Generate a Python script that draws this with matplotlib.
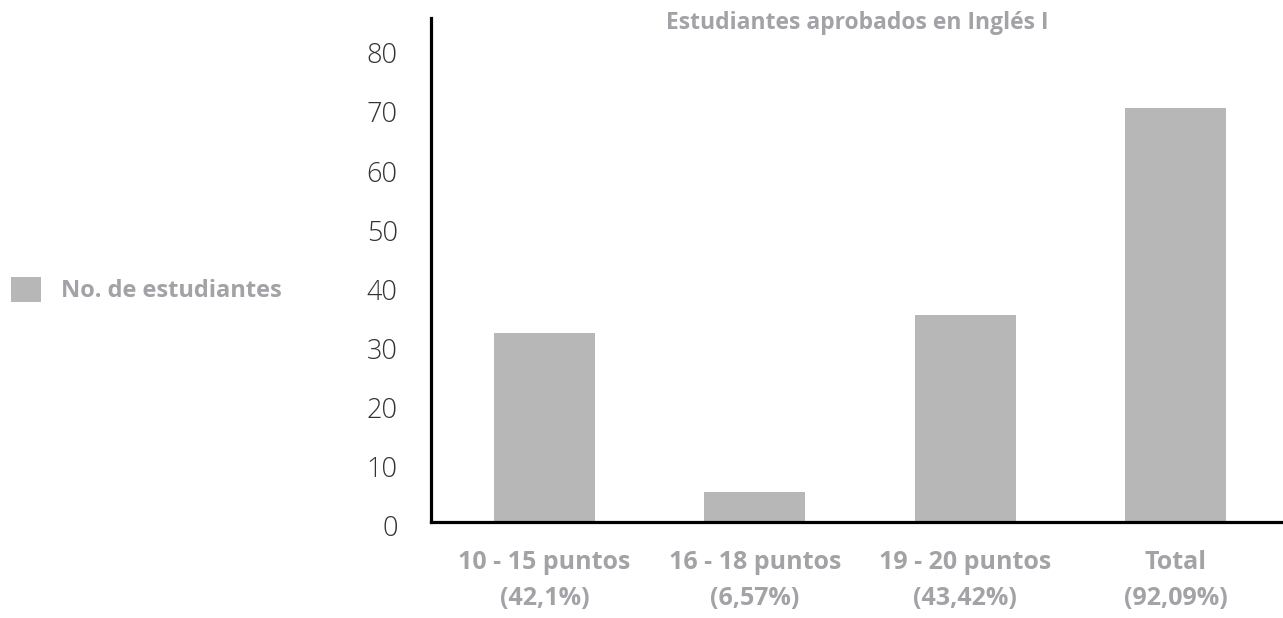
import matplotlib
matplotlib.use("Agg")
import matplotlib.pyplot as plt
import matplotlib.transforms as mtransforms
from matplotlib.patches import Patch

categories = ["10 - 15 puntos\n(42,1%)", "16 - 18 puntos\n(6,57%)",
              "19 - 20 puntos\n(43,42%)", "Total\n(92,09%)"]
students = [32, 5, 35, 70]
yticks = [0, 10, 20, 30, 40, 50, 60, 70, 80]

title = "Estudiantes aprobados en Inglés I"
series_name = "No. de estudiantes"

bar_color = "#b7b7b7"
text_gray = "#a2a2a7"
bold_font = ["Open Sans", "DejaVu Sans"]
light_font = ["Open Sans", "DejaVu Sans"]

W, H = 1283, 618
fig = plt.figure(figsize=(W / 100, H / 100), dpi=100)
ax = fig.add_axes([431 / W, (H - 522) / H, (W - 431) / W, (522 - 18) / H])

x = range(len(categories))
ax.bar(x, students, width=0.48, color=bar_color, zorder=2)

ax.set_xlim(-0.54, 3.51)
ax.set_ylim(0, 85.2)
ax.set_yticks(yticks)
ax.set_yticklabels([str(t) for t in yticks], fontsize=19.5,
                   family=light_font, fontweight="light", color="#333333")
ax.set_xticks(list(x))
ax.set_xticklabels(categories, fontsize=18, family=bold_font,
                   fontweight="bold", color=text_gray, linespacing=1.6)
ax.tick_params(axis="y", length=0, pad=24)
ax.tick_params(axis="x", length=0, pad=20)

# shift y labels slightly down like in the original
off = mtransforms.ScaledTranslation(0, -4 / 100, fig.dpi_scale_trans)
for lab in ax.get_yticklabels():
    lab.set_transform(lab.get_transform() + off)

for side in ["top", "right"]:
    ax.spines[side].set_visible(False)
for side in ["left", "bottom"]:
    ax.spines[side].set_linewidth(2.3)
    ax.spines[side].set_color("black")

fig.text((431 + W) / 2 / W, 1 - 23 / H, title, ha="center", va="center",
         fontsize=16.5, family=bold_font, fontweight="bold", color=text_gray)

handle = Patch(facecolor=bar_color, edgecolor="none")
fig.legend([handle], [series_name], loc="center left",
           bbox_to_anchor=(0.0, 1 - 290 / H), frameon=False,
           prop={"family": bold_font, "weight": "bold", "size": 17},
           labelcolor=text_gray, handlelength=1.3, handleheight=1.3,
           handletextpad=0.85, borderaxespad=0.05)

fig.savefig("out.png", dpi=100)
